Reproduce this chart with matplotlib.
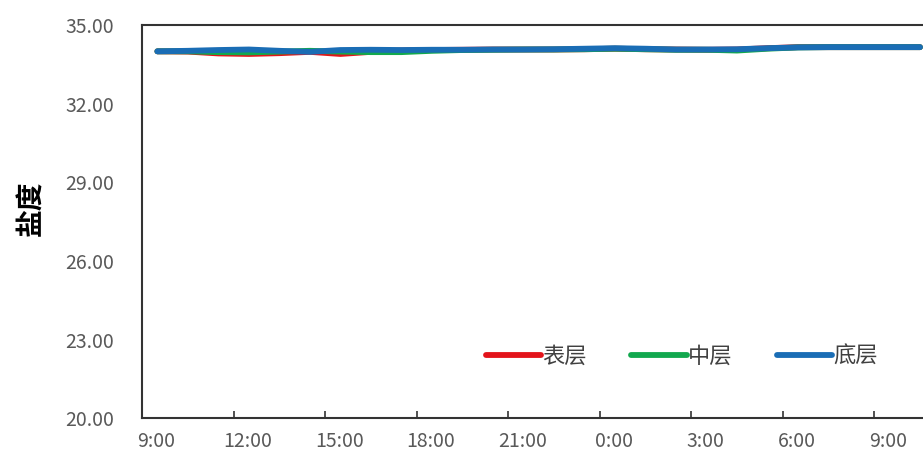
import numpy as np
import matplotlib.pyplot as plt
import matplotlib.transforms as mtransforms

plt.rcParams['font.family'] = ['Noto Sans CJK SC', 'DejaVu Sans']

# hours after 9:00
hours = [0.5, 1.5, 2.5, 3.5, 4.5, 5.5, 6.5, 7.5, 8.5, 9.5, 10.5, 11.5, 12.5,
         13.5, 14.5, 15.5, 16.5, 17.5, 18.5, 19.5, 20.5, 21.5, 22.5, 23.5, 24.5, 25.5]

surface = [34.00, 33.99, 33.92, 33.90, 33.93, 33.98, 33.90, 33.98, 34.03, 34.05, 34.06, 34.07, 34.07,
           34.07, 34.08, 34.10, 34.08, 34.07, 34.06, 34.07, 34.12, 34.16, 34.16, 34.16, 34.16, 34.16]
middle = [34.00, 34.00, 33.97, 33.96, 33.99, 34.02, 33.99, 33.97, 33.97, 34.02, 34.05, 34.06, 34.07,
          34.07, 34.08, 34.10, 34.08, 34.06, 34.06, 34.03, 34.10, 34.15, 34.16, 34.16, 34.16, 34.16]
bottom = [34.00, 34.02, 34.05, 34.07, 34.02, 33.98, 34.05, 34.06, 34.05, 34.06, 34.06, 34.07, 34.07,
          34.08, 34.10, 34.12, 34.10, 34.07, 34.07, 34.08, 34.12, 34.15, 34.16, 34.16, 34.16, 34.16]

tick_hours = [0, 3, 6, 9, 12, 15, 18, 21, 24]
tick_labels = ['9:00', '12:00', '15:00', '18:00', '21:00', '0:00', '3:00', '6:00', '9:00']
y_ticks = [20, 23, 26, 29, 32, 35]

fig = plt.figure(figsize=(9.23, 4.57), dpi=100)
ax = fig.add_axes([0.154, 0.085, 0.846, 0.86])

ax.plot(hours, surface, color='#e3141b', lw=4.2, label='表层', solid_capstyle='round')
ax.plot(hours, middle, color='#12a84e', lw=4.2, label='中层', solid_capstyle='round')
ax.plot(hours, bottom, color='#1a6db5', lw=4.2, label='底层', solid_capstyle='round')

ax.set_xlim(0, 25.6)
ax.set_ylim(20, 35)
ax.set_yticks(y_ticks)
ax.set_yticklabels([f'{v:.2f}' for v in y_ticks])
ax.set_xticks(tick_hours)
ax.set_xticklabels(tick_labels)

ax.tick_params(axis='x', direction='in', length=5, width=1.2, colors='#333333',
               labelcolor='#595959', labelsize=14, pad=9)
ax.tick_params(axis='y', length=0, labelcolor='#595959', labelsize=14, pad=20)

# labels sit a little to the right of the ticks
offset = mtransforms.ScaledTranslation(14 / 100, 0, fig.dpi_scale_trans)
for lbl in ax.get_xticklabels():
    lbl.set_transform(lbl.get_transform() + offset)

for side in ['left', 'bottom', 'top']:
    ax.spines[side].set_color('#333333')
    ax.spines[side].set_linewidth(1.5)
ax.spines['right'].set_visible(False)

ax.set_ylabel('盐度', fontsize=20, fontweight='bold')
ax.yaxis.set_label_coords(-0.124, 0.535)

ax.legend(loc='center right', bbox_to_anchor=(0.968, 0.158), ncol=3, frameon=False,
          handlelength=2.5, handletextpad=0.05, columnspacing=2.0, fontsize=16,
          labelcolor='#404040')

fig.savefig('out.png', dpi=100)
